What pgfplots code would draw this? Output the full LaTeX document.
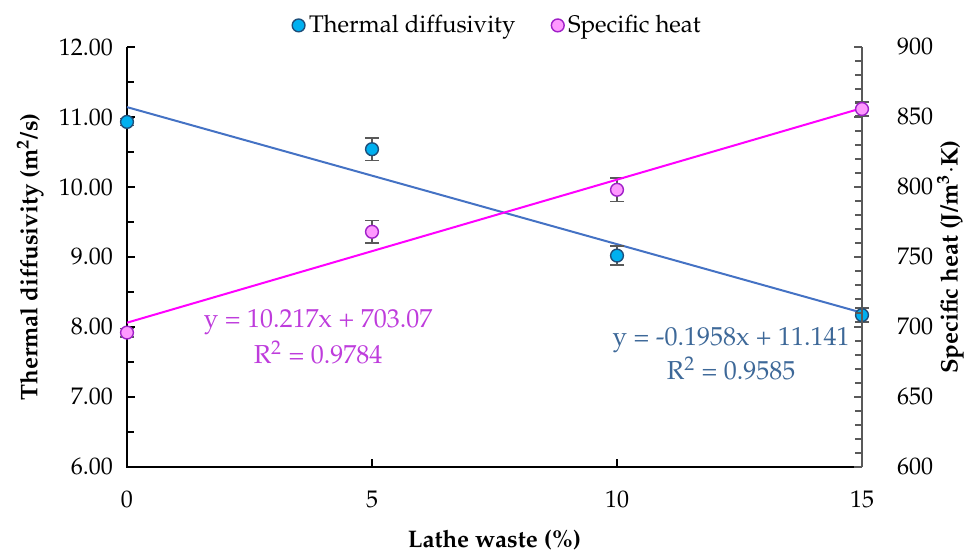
\documentclass[border=0pt]{standalone}
\usepackage[T1]{fontenc}
\usepackage{mathpazo}
\usepackage{pgfplots}
\pgfplotsset{compat=1.18}

\definecolor{tdfill}{RGB}{0,176,240}
\definecolor{tdedge}{RGB}{31,78,121}
\definecolor{shfill}{RGB}{255,153,255}
\definecolor{shedge}{RGB}{160,32,200}
\definecolor{tdline}{RGB}{68,114,196}
\definecolor{shline}{RGB}{255,0,255}
\definecolor{tdtext}{RGB}{61,104,152}
\definecolor{shtext}{RGB}{190,60,220}
\definecolor{errgray}{RGB}{89,89,89}

\tikzset{eqn/.style={anchor=center, font=\fontsize{13}{15}\selectfont}}

\pgfplotsset{
  base/.style={
    scale only axis,
    width=367.5pt, height=210pt,
    xmin=0, xmax=15,
    clip=false,
    font=\fontsize{12}{14}\selectfont,
    axis line style={draw=none},
    tick align=inside,
    major tick length=4pt,
    minor tick length=3.5pt,
  },
  errs/.style={
    error bars/.cd, y dir=both, y explicit,
    error bar style={color=errgray, line width=0.8pt},
    error mark options={rotate=90, mark size=3.5pt, line width=0.8pt, color=errgray},
  },
}

\begin{document}
\begin{tikzpicture}
% left axis: thermal diffusivity
\begin{axis}[
    base,
    ymin=6, ymax=12,
    xtick={0,5,10,15},
    ytick={6,7,8,9,10,11,12},
    minor y tick num=1,
    xtick pos=bottom, ytick pos=left,
    every tick/.style={black, line width=1pt},
    yticklabel style={/pgf/number format/fixed, /pgf/number format/fixed zerofill,
      /pgf/number format/precision=2},
    yticklabel shift=3.5pt,
    xticklabel style={yshift=-8.5pt},
    xlabel={\textbf{Lathe waste (\%)}},
    ylabel={\textbf{Thermal diffusivity (m\textsuperscript{2}/s)}},
    xlabel style={at={(axis description cs:0.5,-0.174)}, anchor=center},
    ylabel style={at={(axis description cs:-0.132,0.5)}, anchor=center},
]
\coordinate (bl) at (rel axis cs:0,0);
\coordinate (tr) at (rel axis cs:1,1);
\draw[black, line width=1pt] (rel axis cs:0,1) -- (rel axis cs:0,0) -- (rel axis cs:1,0);
% linear fit
\addplot[tdline, line width=1pt] coordinates {(0,11.141) (15,8.204)};
% measured values
\addplot[only marks, mark=*, mark size=3.2pt,
  mark options={fill=tdfill, draw=tdedge, line width=0.7pt}, errs]
  coordinates {
    (0,10.93) +- (0,0.05)
    (5,10.54) +- (0,0.16)
    (10,9.02) +- (0,0.135)
    (15,8.17) +- (0,0.10)
};
\node[tdtext, eqn] at (axis cs:12.33,7.81) {y = -0.1958x + 11.141};
\node[tdtext, eqn] at (axis cs:12.33,7.41) {R\textsuperscript{2} = 0.9585};
\end{axis}

% right axis: specific heat
\begin{axis}[
    base,
    ymin=600, ymax=900,
    xtick=\empty,
    ytick={600,650,700,750,800,850,900},
    minor y tick num=4,
    ytick pos=right,
    every tick/.style={errgray, line width=0.8pt},
    yticklabel shift=14pt,
    ylabel={\textbf{Specific heat (J/m\textsuperscript{3}$\cdot$K)}},
    ylabel style={at={(axis description cs:1.12,0.5)}, anchor=center},
    legend columns=2,
    legend style={at={(axis description cs:0.5,1)}, anchor=south, xshift=2pt, yshift=1.5pt,
      draw=none, fill=none, font=\fontsize{12}{14}\selectfont,
      /tikz/every even column/.append style={column sep=16pt}},
    legend cell align=left,
]
\draw[errgray, line width=0.8pt] (rel axis cs:1,0) -- (rel axis cs:1,1);
\addlegendimage{only marks, mark=*, mark size=3.2pt, mark options={fill=tdfill, draw=tdedge, line width=0.7pt}}
\addlegendentry{Thermal diffusivity}
\addplot[only marks, mark=*, mark size=3.2pt,
  mark options={fill=shfill, draw=shedge, line width=0.7pt}, errs]
  coordinates {
    (0,696) +- (0,3)
    (5,768) +- (0,8.2)
    (10,798) +- (0,8.3)
    (15,855.7) +- (0,5)
};
\addlegendentry{Specific heat}
% linear fit
\addplot[shline, line width=1pt, forget plot] coordinates {(0,703.07) (15,856.33)};
\node[shtext, eqn] at (axis cs:3.9,703.5) {y = 10.217x + 703.07};
\node[shtext, eqn] at (axis cs:3.9,682) {R\textsuperscript{2} = 0.9784};
\end{axis}
% fix the page frame to the reference margins
\pgfresetboundingbox
\path ([shift={(-63.5pt,-43.5pt)}]bl) rectangle ([shift={(53.5pt,23.5pt)}]tr);
\end{tikzpicture}
\end{document}
